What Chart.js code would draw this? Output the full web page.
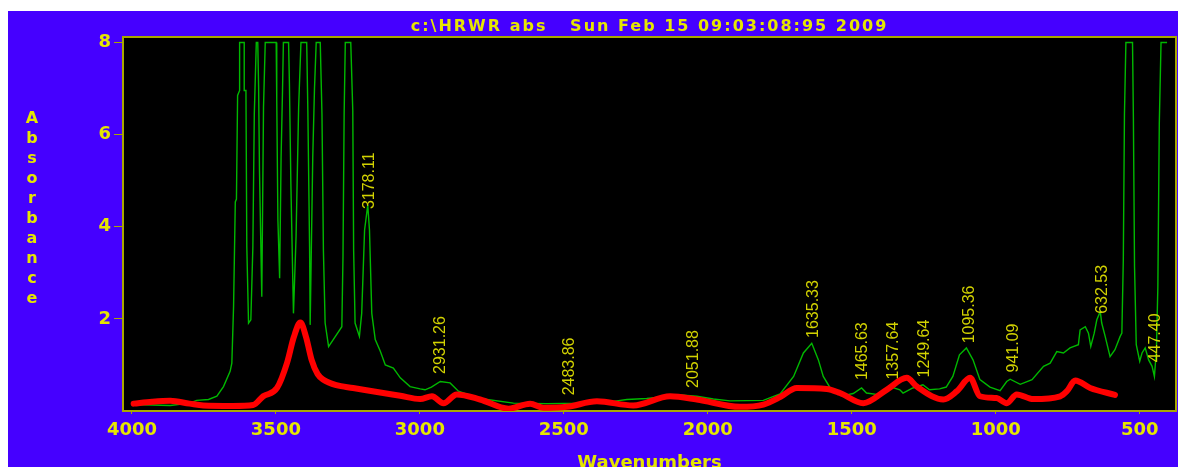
<!DOCTYPE html>
<html>
<head>
<meta charset="utf-8">
<script src="https://cdn.jsdelivr.net/npm/chart.js@4.4.1/dist/chart.umd.min.js"></script>
<style>
  body { margin: 0; background: #fff; }
  canvas { display: block; }
</style>
</head>
<body>
<canvas id="spectrum" width="1178" height="467"></canvas>
<script>
const titleText = 'c:\\HRWR abs   Sun Feb 15 09:03:08:95 2009';
const xTitle = 'Wavenumbers';
const yTitle = 'Absorbance';

const xTicks = [4000, 3500, 3000, 2500, 2000, 1500, 1000, 500];
const yTicks = [2, 4, 6, 8];

// green trace (raw spectrum, saturates at 8)
const greenWn = [3994, 3930, 3867, 3800, 3775, 3734, 3705, 3682, 3659, 3653, 3647, 3641, 3637, 3633, 3626, 3626, 3610,
  3610, 3604, 3601, 3595, 3587, 3580, 3575, 3568, 3563, 3560, 3557, 3549, 3543, 3537, 3499, 3497, 3493, 3487, 3482, 3477, 3474,
  3456, 3453, 3448, 3439, 3430, 3421, 3413, 3393, 3389, 3383, 3381, 3372, 3366, 3360, 3346, 3340, 3335,
  3329, 3317, 3271, 3267, 3263, 3259, 3240, 3233, 3230, 3225, 3210, 3202, 3192, 3181, 3175, 3167, 3155, 3138,
  3120, 3092, 3068, 3034, 2999, 2982, 2960, 2929, 2895, 2866, 2791, 2675, 2559, 2443, 2328, 2281, 2212,
  2096, 2038, 1981, 1923, 1807, 1749, 1702, 1668, 1639, 1616, 1599, 1575, 1518, 1495, 1466, 1449, 1403,
  1368, 1333, 1322, 1288, 1253, 1230, 1195, 1172, 1149, 1126, 1102, 1079, 1055, 1020, 985, 962, 950,
  915, 874, 834, 811, 788, 765, 742, 713, 707, 689, 678, 670, 658, 649, 637, 632, 620, 603, 586, 568,
  562, 557, 553, 548, 525, 522, 518, 512, 500, 492, 481, 469, 457, 449, 442, 437, 432, 426, 405];
const greenAbs = [0.14, 0.13, 0.12, 0.17, 0.23, 0.25, 0.32, 0.53, 0.86, 1.04, 2.27, 4.54, 4.6, 6.85, 6.96, 8, 8,
  6.96, 6.96, 3.56, 1.91, 1.98, 3.56, 6.45, 8, 8, 7.03, 5.22, 2.48, 6.6, 8, 8, 6.74, 4.14, 2.88, 5.5, 6.96, 8,
  8, 7.1, 4.94, 2.12, 3.78, 6.6, 8, 8, 6.52, 3.56, 1.87, 5.51, 6.99, 8, 8, 6.45, 3.49,
  1.91, 1.4, 1.83, 3.35, 6.45, 8, 8, 6.52, 3.49, 1.91, 1.62, 2.12, 3.93, 4.47, 3.93, 2.12, 1.55, 1.31,
  1.0, 0.93, 0.72, 0.53, 0.48, 0.46, 0.52, 0.64, 0.61, 0.43, 0.27, 0.17, 0.16, 0.17, 0.21, 0.25, 0.27,
  0.35, 0.32, 0.26, 0.22, 0.23, 0.37, 0.75, 1.26, 1.47, 1.11, 0.75, 0.5, 0.35, 0.38, 0.5, 0.39, 0.35,
  0.53, 0.46, 0.39, 0.5, 0.57, 0.46, 0.48, 0.52, 0.75, 1.22, 1.37, 1.11, 0.68, 0.52, 0.44, 0.64, 0.69,
  0.58, 0.68, 0.97, 1.04, 1.29, 1.26, 1.37, 1.44, 1.76, 1.83, 1.69, 1.4, 1.69, 1.98, 2.16, 1.91, 1.62, 1.18, 1.33, 1.62,
  1.69, 3.28, 6.45, 8, 8, 6.38, 3.13, 1.44, 1.08, 1.26, 1.37, 1.11, 0.97, 0.75, 1.33, 2.7, 6.24, 8, 8];

// red trace (overlay spectrum)
const redWn = [3994, 3930, 3867, 3800, 3752, 3650, 3579, 3544, 3496, 3461, 3438, 3415, 3395, 3376, 3355,
  3335, 3290, 3232, 3138, 3068, 2999, 2958, 2918, 2872, 2791, 2692, 2617, 2571, 2490, 2385, 2259, 2131,
  2038, 1888, 1807, 1749, 1691, 1587, 1541, 1460, 1379, 1309, 1274, 1182, 1135, 1089, 1055, 997, 962,
  927, 870, 776, 753, 724, 672, 586];
const redAbs = [0.16, 0.2, 0.22, 0.16, 0.12, 0.11, 0.13, 0.32, 0.5, 1.05, 1.6, 1.92, 1.6, 1.11, 0.8,
  0.68, 0.56, 0.5, 0.4, 0.33, 0.26, 0.32, 0.17, 0.36, 0.25, 0.05, 0.16, 0.07, 0.09, 0.21, 0.12, 0.32,
  0.25, 0.09, 0.14, 0.3, 0.5, 0.48, 0.39, 0.17, 0.46, 0.72, 0.53, 0.25, 0.43, 0.72, 0.32, 0.28, 0.17,
  0.36, 0.26, 0.32, 0.43, 0.66, 0.5, 0.35];

const peakLabels = [3178.11, 2931.26, 2483.86, 2051.88, 1635.33, 1465.63, 1357.64, 1249.64, 1095.36, 941.09, 632.53, 447.40];

const BLUE = '#4500ff';
const YELLOW = '#e6e600';
const OLIVE = '#a8a800';

function greenAt(wn) {
  for (let i = 0; i < greenWn.length - 1; i++) {
    const a = greenWn[i], b = greenWn[i + 1];
    if (wn <= a && wn >= b && a !== b) {
      const t = (a - wn) / (a - b);
      return greenAbs[i] + t * (greenAbs[i + 1] - greenAbs[i]);
    }
  }
  return 0;
}

const decor = {
  id: 'decor',
  beforeDraw(chart) {
    const { ctx, width, height, chartArea: a } = chart;
    ctx.save();
    ctx.fillStyle = '#fff';
    ctx.fillRect(0, 0, width, height);
    ctx.fillStyle = BLUE;
    ctx.fillRect(8, 11, width - 8, height - 11);
    ctx.fillStyle = '#000';
    ctx.fillRect(a.left, a.top, a.right - a.left, a.bottom - a.top);
    ctx.restore();
  },
  beforeDatasetsDraw(chart) {
    const { ctx, chartArea: a } = chart;
    ctx.save();
    ctx.strokeStyle = OLIVE;
    ctx.lineWidth = 2;
    ctx.strokeRect(a.left, a.top, a.right - a.left, a.bottom - a.top);
    ctx.restore();
  },
  afterDatasetsDraw(chart) {
    const { ctx, chartArea: a } = chart;
    const xs = chart.scales.x, ys = chart.scales.y;
    ctx.save();
    // peak labels
    ctx.fillStyle = '#d2d200';
    ctx.font = '16px "Liberation Sans"';
    ctx.textAlign = 'left';
    ctx.textBaseline = 'middle';
    peakLabels.forEach(wn => {
      const px = xs.getPixelForValue(wn);
      const py = ys.getPixelForValue(greenAt(wn)) - 8;
      ctx.save();
      ctx.translate(px, py);
      ctx.rotate(-Math.PI / 2);
      ctx.fillText(wn.toFixed(2), 0, 1);
      ctx.restore();
    });
    // title
    ctx.fillStyle = YELLOW;
    ctx.font = 'bold 16px "DejaVu Sans"';
    ctx.letterSpacing = '2px';
    ctx.textAlign = 'center';
    ctx.fillText(titleText, (a.left + a.right) / 2, 27);
    // x title
    ctx.letterSpacing = '0px';
    ctx.font = 'bold 18px "DejaVu Sans"';
    ctx.textBaseline = 'alphabetic';
    ctx.fillText(xTitle, (a.left + a.right) / 2, 468);
    // y title, stacked letters
    ctx.font = 'bold 16px "DejaVu Sans"';
    ctx.textBaseline = 'middle';
    yTitle.split('').forEach((ch, i) => ctx.fillText(ch, 32, 119 + i * 20));
    ctx.restore();
  }
};

const ctx = document.getElementById('spectrum').getContext('2d');
const chart = new Chart(ctx, {
  type: 'line',
  data: {
    datasets: [
      {
        label: 'overlay',
        data: redWn.map((w, i) => ({ x: w, y: redAbs[i] })),
        borderColor: '#ff0000',
        borderWidth: 6,
        pointRadius: 0,
        cubicInterpolationMode: 'monotone',
        borderJoinStyle: 'round',
        borderCapStyle: 'round'
      },
      {
        label: 'abs',
        data: greenWn.map((w, i) => ({ x: w, y: greenAbs[i] })),
        borderColor: '#00b800',
        borderWidth: 1.4,
        pointRadius: 0,
        tension: 0
      }
    ]
  },
  options: {
    responsive: false,
    animation: false,
    layout: { padding: { top: 37, right: 2, left: 0, bottom: 0 } },
    plugins: { legend: { display: false }, tooltip: { enabled: false } },
    scales: {
      x: {
        type: 'linear',
        reverse: true,
        min: 374,
        max: 4031,
        afterBuildTicks: s => { s.ticks = xTicks.map(v => ({ value: v })); },
        afterFit: s => { s.height = 56; },
        grid: { drawOnChartArea: false, drawTicks: true, tickLength: 3, color: OLIVE },
        border: { display: false },
        ticks: {
          color: YELLOW,
          font: { family: 'DejaVu Sans', weight: 'bold', size: 18 },
          padding: 6,
          maxRotation: 0,
          autoSkip: false,
          callback: v => String(v)
        }
      },
      y: {
        min: 0,
        max: 8.12,
        afterBuildTicks: s => { s.ticks = yTicks.map(v => ({ value: v })); },
        afterFit: s => { s.width = 123; },
        grid: { drawOnChartArea: false, drawTicks: true, tickLength: 9, color: OLIVE },
        border: { display: false },
        ticks: {
          color: YELLOW,
          font: { family: 'DejaVu Sans', weight: 'bold', size: 18 },
          padding: 3,
          callback: v => String(v)
        }
      }
    }
  },
  plugins: [decor]
});
</script>
</body>
</html>
